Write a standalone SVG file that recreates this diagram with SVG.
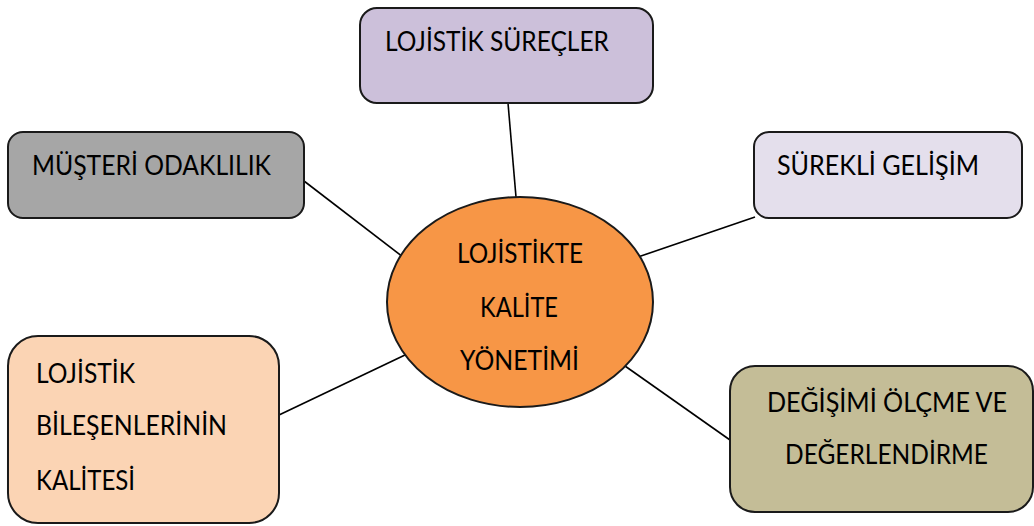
<svg xmlns="http://www.w3.org/2000/svg" width="1034" height="526" viewBox="0 0 1034 526">
<style>
.box{stroke:#1a1a1a;stroke-width:2}
.t{font-family:Lato,"Open Sans","Liberation Sans",sans-serif;font-size:26px;fill:#000}
.c{stroke:#000;stroke-width:1.6;fill:none}
</style>
<rect width="1034" height="526" fill="#fff"/>
<g id="connectors">
<line class="c" x1="508" y1="103" x2="516" y2="197"/>
<line class="c" x1="304" y1="181" x2="403" y2="257"/>
<line class="c" x1="755" y1="217" x2="638" y2="257"/>
<line class="c" x1="279" y1="415" x2="405" y2="355"/>
<line class="c" x1="625" y1="366" x2="730" y2="440"/>
</g>
<g id="center">
<ellipse class="box" cx="520" cy="302" rx="133" ry="105" fill="#F79646"/>
<text class="t" x="457" y="263" textLength="126" lengthAdjust="spacingAndGlyphs">LOJİSTİKTE</text>
<text class="t" x="480" y="317" textLength="78" lengthAdjust="spacingAndGlyphs">KALİTE</text>
<text class="t" x="460" y="370" textLength="119" lengthAdjust="spacingAndGlyphs">YÖNETİMİ</text>
</g>
<g id="surecler">
<rect class="box" x="360" y="8" width="293" height="95" rx="17" fill="#CCC0DA"/>
<text class="t" x="385" y="51" textLength="224" lengthAdjust="spacingAndGlyphs">LOJİSTİK SÜREÇLER</text>
</g>
<g id="musteri">
<rect class="box" x="8" y="132" width="296" height="86" rx="15" fill="#A6A6A6"/>
<text class="t" x="32" y="175" textLength="239" lengthAdjust="spacingAndGlyphs">MÜŞTERİ ODAKLILIK</text>
</g>
<g id="gelisim">
<rect class="box" x="754" y="132" width="268" height="86" rx="15" fill="#E4DFEC"/>
<text class="t" x="777" y="175" textLength="202" lengthAdjust="spacingAndGlyphs">SÜREKLİ GELİŞİM</text>
</g>
<g id="bilesenler">
<rect class="box" x="8" y="336" width="271" height="187" rx="30" fill="#FBD4B4"/>
<text class="t" x="36" y="383" textLength="99" lengthAdjust="spacingAndGlyphs">LOJİSTİK</text>
<text class="t" x="36" y="435" textLength="191" lengthAdjust="spacingAndGlyphs">BİLEŞENLERİNİN</text>
<text class="t" x="36" y="490" textLength="99" lengthAdjust="spacingAndGlyphs">KALİTESİ</text>
</g>
<g id="olcme">
<rect class="box" x="730" y="366" width="303" height="146" rx="25" fill="#C4BD97"/>
<text class="t" x="767" y="412" textLength="240" lengthAdjust="spacingAndGlyphs">DEĞİŞİMİ ÖLÇME VE</text>
<text class="t" x="785" y="464" textLength="203" lengthAdjust="spacingAndGlyphs">DEĞERLENDİRME</text>
</g>
</svg>
